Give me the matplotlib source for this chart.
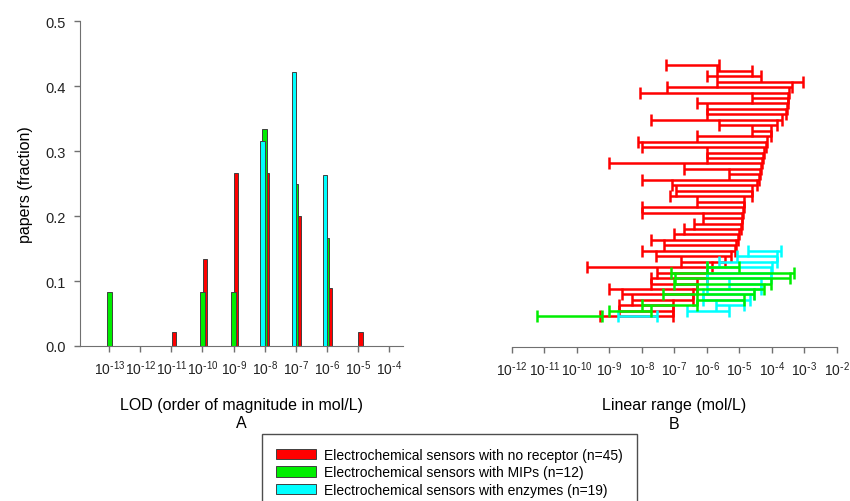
import numpy as np
import matplotlib
matplotlib.use("Agg")
import matplotlib.pyplot as plt
from matplotlib.patches import Patch

plt.rcParams['font.family'] = ['Liberation Sans', 'DejaVu Sans']

# LOD histogram (exponent of 10 -> fraction of papers)
lod_exp = [-13, -12, -11, -10, -9, -8, -7, -6, -5, -4]
red_frac = [0, 0, 1/45, 6/45, 12/45, 12/45, 9/45, 4/45, 1/45, 0]
green_frac = [1/12, 0, 0, 1/12, 1/12, 4/12, 3/12, 2/12, 0, 0]
cyan_frac = [0, 0, 0, 0, 0, 6/19, 8/19, 5/19, 0, 0]

# linear ranges (log10 mol/L), listed from top row to bottom row
red_lo = [-7.26, -5.69, -6.0, -5.69, -7.23, -8.05, -4.62, -6.31, -6.0, -6.0,
          -7.71, -5.62, -4.62, -6.31, -8.10, -8.0, -6.0, -6.0, -9.0, -6.70,
          -5.31, -8.0, -7.08, -6.95, -7.13, -6.31, -8.0, -8.0, -6.12, -6.39,
          -6.70, -7.0, -7.71, -7.30, -8.0, -7.56, -6.80, -9.69, -7.54, -7.70,
          -7.70, -9.01, -8.61, -8.31, -8.69, -8.69, -9.28]
red_hi = [-5.63, -4.62, -4.32, -3.05, -3.38, -3.47, -3.49, -3.51, -3.53, -3.57,
          -3.67, -3.85, -4.02, -4.02, -4.15, -4.18, -4.23, -4.26, -4.29, -4.33,
          -4.36, -4.39, -4.46, -4.62, -4.62, -4.85, -4.85, -4.87, -4.90, -4.92,
          -4.95, -5.0, -5.03, -5.10, -5.13, -5.25, -5.44, -5.85, -6.0, -6.0,
          -6.3, -6.31, -6.41, -6.43, -7.03, -7.03, -7.03]
green_lo = [-6.0, -7.11, -6.97, -7.0, -6.31, -7.33, -6.31, -8.0, -9.0, -11.23]
green_hi = [-5.02, -3.31, -3.44, -4.02, -4.24, -4.53, -4.84, -6.31, -7.71, -9.23]
cyan_lo = [-4.72, -5.08, -5.63, -6.0, -6.0, -6.0, -5.32, -6.0, -6.1, -6.1,
           -5.71, -6.62, -8.72]
cyan_hi = [-3.71, -3.85, -3.85, -4.0, -4.02, -4.02, -4.33, -4.33, -4.56, -4.67,
           -4.85, -5.32, -7.54]
range_exp = list(range(-12, -1))

RED, GREEN, CYAN = '#ff0000', '#00ee00', '#00ffff'
AXC = '#707070'


def exp_labels(exps):
    # plain hyphen instead of the wide math minus, as in the original
    return ['$\\mathdefault{10^{\\text{-}%d}}$' % abs(e) for e in exps]


def style_axis(ax):
    for s in ['top', 'right']:
        ax.spines[s].set_visible(False)
    for s in ['left', 'bottom']:
        ax.spines[s].set_color(AXC)
    ax.tick_params(colors=AXC, labelcolor='#222222', labelsize=10.5,
                   length=4, width=1, pad=5)


fig = plt.figure(figsize=(8.5, 5.02), dpi=100)

# --- panel A
ax1 = fig.add_axes([80/850, 1 - 347/502, 323/850, 325/502])
x = np.array(lod_exp)
w = 0.15
ax1.bar(x + 0.08, red_frac, w, color=RED, edgecolor='#404040', linewidth=0.7, zorder=2)
ax1.bar(x, green_frac, w, color=GREEN, edgecolor='#404040', linewidth=0.7, zorder=3)
ax1.bar(x - 0.06, cyan_frac, w, color=CYAN, edgecolor='#404040', linewidth=0.7, zorder=4)
ax1.set_xlim(-13.94, -3.55)
ax1.set_ylim(0, 0.5)
ax1.set_xticks(lod_exp)
ax1.set_xticklabels(exp_labels(lod_exp))
ax1.set_yticks([0, 0.1, 0.2, 0.3, 0.4, 0.5])
ax1.set_yticklabels(['0.0', '0.1', '0.2', '0.3', '0.4', '0.5'])
style_axis(ax1)
ax1.tick_params(axis='x', labelsize=10)
ax1.tick_params(axis='y', labelsize=10.5, pad=6)
ax1.set_ylabel('papers (fraction)', fontsize=11.5, labelpad=9)
ax1.set_xlabel('LOD (order of magnitude in mol/L)\nA', fontsize=11.5,
               labelpad=14, linespacing=1.3)

# --- panel B
ax2 = fig.add_axes([511.7/850, 1 - 347.7/502, 325/850, 325.7/502])
for lo, hi, col, z in [(red_lo, red_hi, RED, 2), (cyan_lo, cyan_hi, CYAN, 3),
                       (green_lo, green_hi, GREEN, 4)]:
    lo = np.array(lo)
    hi = np.array(hi)
    rows = np.arange(len(lo), 0, -1)
    ax2.errorbar((lo + hi) / 2, rows, xerr=(hi - lo) / 2, fmt='none',
                 ecolor=col, elinewidth=1.8, capsize=4, capthick=1.8, zorder=z)
ax2.set_xlim(-12, -2)
ax2.set_ylim(-4.57, 55.1)
ax2.set_xticks(range_exp)
ax2.set_xticklabels(exp_labels(range_exp))
style_axis(ax2)
ax2.tick_params(axis='x', labelsize=10)
ax2.spines['left'].set_visible(False)
ax2.set_yticks([])
ax2.set_xlabel('Linear range (mol/L)\nB', fontsize=11.5, labelpad=14,
               linespacing=1.3)

handles = [Patch(facecolor=RED, edgecolor='#404040', linewidth=0.7),
           Patch(facecolor=GREEN, edgecolor='#404040', linewidth=0.7),
           Patch(facecolor=CYAN, edgecolor='#404040', linewidth=0.7)]
labels = ['Electrochemical sensors with no receptor (n=45)',
          'Electrochemical sensors with MIPs (n=12)',
          'Electrochemical sensors with enzymes (n=19)']
leg = fig.legend(handles, labels, loc='upper left',
                 bbox_to_anchor=(262/850, 1 - 435/502), fontsize=10,
                 frameon=True, fancybox=False, edgecolor='#222222',
                 handlelength=2.9, handleheight=0.8, labelspacing=0.25,
                 borderpad=1.0, handletextpad=0.6, borderaxespad=0)
leg.get_frame().set_linewidth(1.0)

fig.savefig('out.png', dpi=100)
